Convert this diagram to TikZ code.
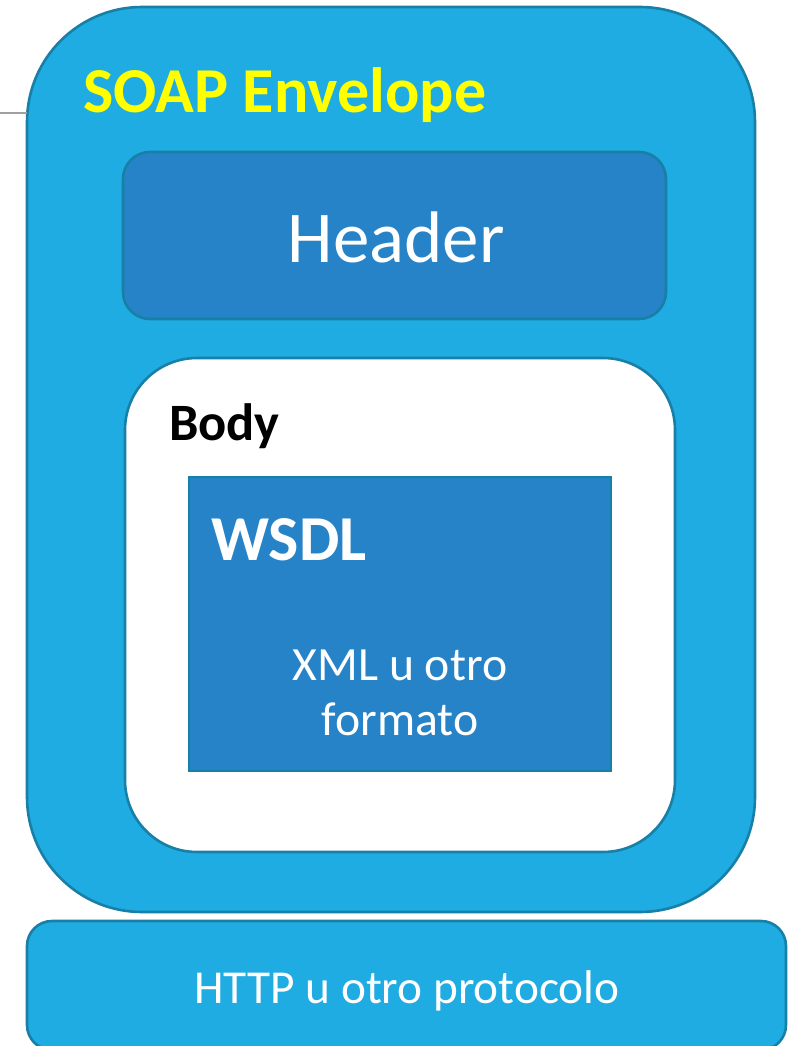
\documentclass[tikz,border=0pt]{standalone}
\usepackage{fontspec}
\setmainfont{Carlito}
\definecolor{envblue}{HTML}{1EACE3}
\definecolor{deepblue}{HTML}{2783C7}
\definecolor{edgeteal}{HTML}{187FA7}
\definecolor{signyellow}{HTML}{FFFF00}
\definecolor{leadgray}{HTML}{A0A0A0}
\tikzset{
  panel/.style={draw=edgeteal, line width=2.6pt, rectangle, inner sep=0pt, outer sep=0pt},
  label/.style={inner sep=0pt, outer sep=0pt, text=white},
}
\begin{document}
\begin{tikzpicture}[x=1pt, y=-1pt]
  \useasboundingbox (0,0) rectangle (787,1046);
  \fill[white] (0,0) rectangle (787,1046);

  % outer envelope
  \node[panel, fill=envblue, rounded corners=115pt,
        minimum width=728pt, minimum height=905pt] (env) at (391,459.5) {};
  % lead line into the envelope
  \coordinate (lead) at (0,113);
  \draw[leadgray, line width=1.3pt] (lead) -- (lead -| env.west);

  % header block
  \node[panel, fill=deepblue, rounded corners=27pt,
        minimum width=543pt, minimum height=167pt] (hdr) at (394.5,235.5) {};
  % body block
  \node[panel, fill=white, rounded corners=72pt,
        minimum width=550pt, minimum height=494pt] (body) at (400,605) {};
  % WSDL block
  \node[panel, fill=deepblue, line width=1.8pt,
        minimum width=422pt, minimum height=294pt] (wsdl) at (400,624) {};
  % transport block
  \node[panel, fill=envblue, rounded corners=25pt,
        minimum width=759pt, minimum height=129pt] (http) at (406.5,985.5) {};

  % texts
  \node[label, anchor=base west, text=signyellow, font=\fontsize{64}{64}\selectfont\bfseries]
    (envt) at (83,113) {SOAP Envelope};
  \node[label, anchor=base, font=\fontsize{73}{73}\selectfont] (hdrt) at (396,262) {Header};
  \node[label, anchor=base west, text=black, font=\fontsize{52.5}{52}\selectfont\bfseries]
    (bodyt) at (169,440) {Body};
  \node[label, anchor=base west, font=\fontsize{64}{64}\selectfont\bfseries]
    (wsdlt) at (211,560) {WSDL};
  \node[label, anchor=base, font=\fontsize{47.7}{48}\selectfont] (xml1) at (400,680) {XML u otro};
  \node[label, anchor=base, font=\fontsize{47.7}{48}\selectfont] (xml2) at (400,735) {formato};
  \node[label, anchor=base, font=\fontsize{47.3}{48}\selectfont] (httpt) at (407,1003) {HTTP u otro protocolo};
\end{tikzpicture}
\end{document}
